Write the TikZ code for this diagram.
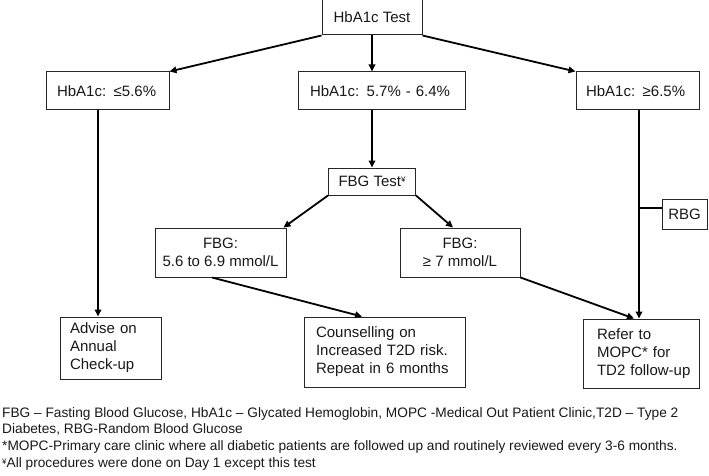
\documentclass[tikz,border=0pt]{standalone}
\usepackage{fontspec}
\setmainfont{Liberation Sans}
\usetikzlibrary{arrows.meta}
\begin{document}
\begin{tikzpicture}[x=1pt,y=-1pt,
  box/.style={draw=black!85, line width=1pt, inner sep=0pt, fill=white,
    font=\fontsize{15}{18}\selectfont, text=black!90},
  lbox/.style={box, align=left},
  cbox/.style={box, align=center},
  conn/.style={line width=1.8pt, black},
  arr/.style={conn, -{Triangle[length=7pt,width=6.5pt]}},
  note/.style={anchor=base west, inner sep=0pt, font=\fontsize{13.7}{16}\selectfont, text=black!90}
]
\fill[white] (0,0) rectangle (709,476);
\useasboundingbox (0,0) rectangle (709,476);

% level 0
\node[cbox, minimum width=100pt, minimum height=35pt] (top) at (372,17.5) {HbA1c Test};

% level 1
\node[lbox, minimum width=123pt, minimum height=38pt, text width=101pt] (l1) at (107.5,91) {HbA1c: ≤5.6\%};
\node[lbox, minimum width=167pt, minimum height=38pt, text width=143pt] (m2) at (381.5,91) {HbA1c: 5.7\% - 6.4\%};
\node[lbox, minimum width=123pt, minimum height=38pt, text width=103pt] (r2) at (637.5,91) {HbA1c: ≥6.5\%};

% FBG test
\node[cbox, minimum width=87pt, minimum height=27pt] (fbgt) at (372,181.5) {FBG Test\raisebox{0.5ex}{\fontsize{8}{8}\selectfont ¥}};

% RBG
\node[cbox, minimum width=45pt, minimum height=30pt] (rbg) at (684.5,214) {RBG};

% FBG results
\node[cbox, minimum width=131pt, minimum height=49pt] (fbgL) at (220.5,252.5) {FBG:\\5.6 to 6.9 mmol/L};
\node[cbox, minimum width=120pt, minimum height=49pt] (fbgR) at (460,252.5) {FBG:\\≥ 7 mmol/L};

% outcomes
\node[lbox, minimum width=101pt, minimum height=62pt, text width=81pt] (adv) at (110.5,348) {Advise on\\Annual\\Check-up};
\node[lbox, minimum width=161pt, minimum height=70pt, text width=137pt] (couns) at (384.5,352) {Counselling on\\Increased T2D risk.\\Repeat in 6 months};
\node[lbox, minimum width=116pt, minimum height=69pt, text width=100pt, xshift=0pt] (refer) at (641,353.5) {\hspace*{6pt}Refer to\\\hspace*{6pt}MOPC* for\\\hspace*{6pt}TD2 follow-up};

% connectors
\draw[arr] (top.south west) -- (l1.north east);
\draw[arr] (top.south) -- (top.south |- m2.north);
\draw[arr] (top.south east) -- (r2.north west);

\draw[arr] ([xshift=-9.5pt]l1.south) -- ([xshift=-9.5pt]l1.south |- adv.north);
\draw[arr] (fbgt.north |- m2.south) -- (fbgt.north);
\draw[arr] ([xshift=1.5pt]r2.south) -- ([xshift=1.5pt]r2.south |- refer.north);
\draw[conn] ([yshift=6pt]rbg.west -| r2.south) -- ([yshift=6pt]rbg.west);

\draw[arr] (fbgt.south west) -- ([xshift=-3pt]fbgL.north east);
\draw[arr] (fbgt.south east) -- ([xshift=-7pt]fbgR.north);

\draw[arr] ([xshift=-8.5pt]fbgL.south) -- ([xshift=-22.5pt]couns.north);
\draw[arr] (fbgR.south east) -- ([xshift=-7pt]refer.north);

% footnotes
\node[note] (n1) at (2,417) {FBG – Fasting Blood Glucose, HbA1c – Glycated Hemoglobin, MOPC -Medical Out Patient Clinic,T2D – Type 2};
\node[note] (n2) at (2,433) {Diabetes, RBG-Random Blood Glucose};
\node[note] (n3) at (2,450) {*MOPC-Primary care clinic where all diabetic patients are followed up and routinely reviewed every 3-6 months.};
\node[note] (n4) at (2,467) {\raisebox{0.4ex}{\fontsize{8}{8}\selectfont ¥}All procedures were done on Day 1 except this test};
\end{tikzpicture}
\end{document}
